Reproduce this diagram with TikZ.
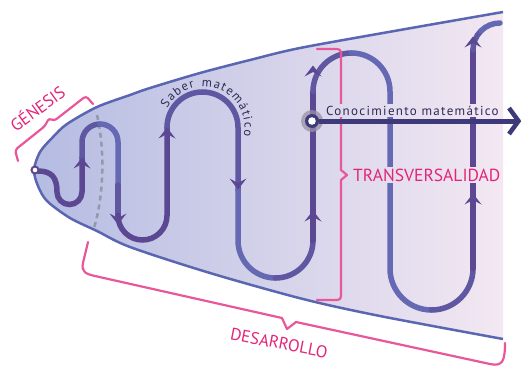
\documentclass[tikz,border=0pt]{standalone}
\usepackage{fontspec}
\setmainfont{PT Sans}
\newfontfamily\spaced[LetterSpace=10]{PT Sans}
\usetikzlibrary{decorations.text}
\definecolor{pur}{HTML}{5C4792}
\definecolor{mid}{HTML}{6057A2}
\definecolor{blu}{HTML}{6568B2}
\definecolor{edgeblue}{HTML}{5A66B2}
\definecolor{pinkline}{HTML}{E9579B}
\definecolor{pinktext}{HTML}{E3257A}
\definecolor{navy}{HTML}{3E3A7A}
\definecolor{textdark}{HTML}{2E2A55}
\definecolor{leftfill}{HTML}{B5BCE2}
\definecolor{rightfill}{HTML}{F3E8F2}
\definecolor{dashgrey}{HTML}{8E9CA8}
\definecolor{halo}{HTML}{9A90A8}
\begin{document}
\begin{tikzpicture}[x=1pt,y=1pt,
  wave/.style={line width=5.5pt, line cap=round},
  brace/.style={pinkline, line width=2.2pt, line join=round, line cap=round},
  tag/.style={pinktext, font=\fontsize{17}{17}\selectfont, inner sep=0pt},
  uparr/.pic={\fill[pur, line join=round] (0,1.5) -- (8.5,-9.5) -- (0,-5) -- (-8.5,-9.5) -- cycle;},
  dnarr/.pic={\fill[pur, line join=round] (0,-1.5) -- (8.5,9.5) -- (0,5) -- (-8.5,9.5) -- cycle;},
]
\useasboundingbox (0,0) rectangle (521,-367);
% horn shape
\path[left color=leftfill, right color=rightfill]
  plot[smooth] coordinates {(503,-339) (380,-316) (303,-299) (210,-273) (130,-247) (97,-231) (70,-218) (47,-201) (38,-186) (34,-170) (40,-152) (53,-137) (67,-124) (97,-107) (130,-95) (150,-88) (200,-73) (250,-60) (300,-48) (400,-30) (503,-12)} -- cycle;
\draw[edgeblue, line width=2.5pt]
  plot[smooth] coordinates {(503,-339) (380,-316) (303,-299) (210,-273) (130,-247) (97,-231) (70,-218) (47,-201) (38,-186) (34,-170) (40,-152) (53,-137) (67,-124) (97,-107) (130,-95) (150,-88) (200,-73) (250,-60) (300,-48) (400,-30) (503,-12)};
% dashed border of genesis
\draw[dashgrey, line width=2.5pt, dash pattern=on 5pt off 4pt] (97,-115) .. controls (105,-150) and (104,-195) .. (94,-228);
% wave
\draw[wave, pur] (38,-171) .. controls (52,-171) and (57,-178) .. (57,-192) arc[start angle=180, end angle=360, radius=12.5] -- (82,-158);
\draw[wave, mid] (82,-158) -- (82,-142) arc[start angle=180, end angle=90, radius=18];
\draw[wave, blu] (100,-124) arc[start angle=90, end angle=0, radius=18] -- (118,-185);
\draw[wave, mid] (118,-185) -- (118,-215.5);
\draw[wave, pur] (118,-215.5) arc[start angle=180, end angle=360, radius=24.5] -- (167,-127.5);
\draw[wave, mid] (167,-127.5) arc[start angle=180, end angle=0, radius=35.5] -- (238,-190);
\draw[wave, blu] (238,-190) -- (238,-240.5) arc[start angle=180, end angle=270, radius=37.5];
\draw[wave, mid] (275.5,-278) arc[start angle=270, end angle=360, radius=37.5];
\draw[wave, pur] (313,-240.5) -- (313,-91.5);
\draw[wave, mid] (313,-91.5) arc[start angle=180, end angle=90, radius=38.5];
\draw[wave, blu] (351.5,-53) arc[start angle=90, end angle=0, radius=38.5] -- (390,-268.5) arc[start angle=180, end angle=270, radius=41.5];
\draw[wave, mid] (431.5,-310) arc[start angle=270, end angle=360, radius=41.5];
\draw[wave, pur] (473,-268.5) -- (473,-50);
\draw[wave, mid] (473,-50) arc[start angle=180, end angle=135, radius=27];
\draw[wave, blu] (500,-50) ++(135:27) arc[start angle=135, end angle=90, radius=27];
% arrow marks
\pic at (82,-159) {uparr};
\pic at (118,-223) {dnarr};
\pic at (167,-129) {uparr};
\pic at (238,-188) {dnarr};
\pic at (313,-212) {uparr};
\pic at (313,-67) {uparr};
\pic at (473,-195) {uparr};
\pic at (473,-38) {uparr};
% start dot
\draw[pur, fill=white, line width=2pt] (35,-170) circle[radius=3.5];
% text along arc
\path[decorate, decoration={text along path, text={|\spaced\fontsize{12.5}{12.5}\selectfont\color{textdark}|Saber matemático}, text align=fit to path}]
  (203.5,-127.5) ++(152:41) arc[start angle=152, end angle=-12, radius=41];
% braces
\draw[brace, rounded corners=3pt] (18,-161) -- (15,-150) -- (45,-126) -- (49,-118) -- (54,-121) -- (86,-96) -- (93,-104);
\draw[brace] (317,-49) -- (333,-49) .. controls (341,-49) .. (341,-57) -- (341,-170) -- (347,-175) -- (341,-180) -- (341,-292) .. controls (341,-300) .. (333,-300) -- (317,-300);
\draw[brace] (88,-242) -- (83,-263) .. controls (81,-272) and (86,-274) .. (95,-276) -- (282,-318) -- (287,-329) -- (296,-322) -- (490,-364) .. controls (503,-367) and (505,-360) .. (505,-343);
% conocimiento arrow
\fill[halo, opacity=0.75] (312,-121) circle[radius=11];
\fill[navy] (312,-121) circle[radius=7];
\fill[white] (312,-121) circle[radius=3.8];
\draw[navy, line width=5pt] (319,-121) -- (517,-121);
\draw[navy, line width=4.5pt, line join=miter] (509,-108) -- (518.5,-121) -- (509,-134);
% labels
\node (con) [anchor=base west, font=\spaced\fontsize{13}{13}\selectfont, text=textdark, inner sep=1pt, left color=rightfill!62!leftfill, right color=rightfill] at (325,-115) {Conocimiento matemático};
\node (tra) [tag, font=\fontsize{17.5}{17.5}\selectfont, anchor=west, inner sep=1pt, left color=rightfill!68!leftfill, right color=rightfill] at (352,-175) {TRANSVERSALIDAD};
\node (gen) [tag, rotate=36] at (37,-108) {GÉNESIS};
\node (des) [tag, rotate=-11] at (279,-343) {DESARROLLO};
\end{tikzpicture}
\end{document}
